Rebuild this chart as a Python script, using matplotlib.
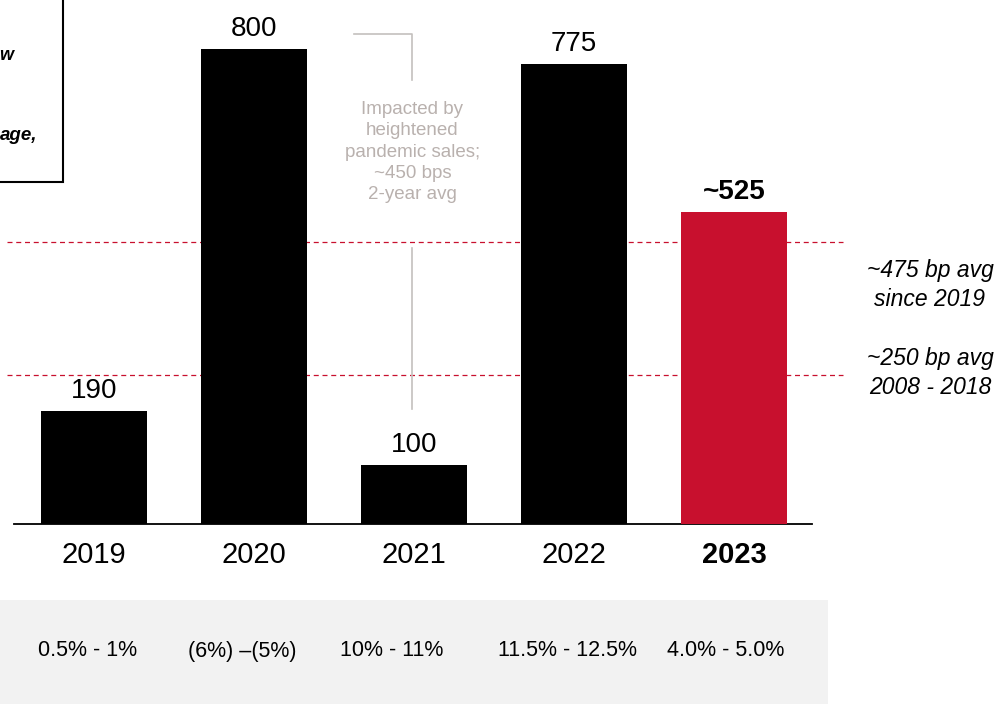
import matplotlib
matplotlib.use("Agg")
import matplotlib.pyplot as plt
from matplotlib.patches import Rectangle

plt.rcParams['font.family'] = ['Liberation Sans', 'DejaVu Sans']

# Data
years = ["2019", "2020", "2021", "2022", "2023"]
values = [190, 800, 100, 775, 525]
value_labels = ["190", "800", "100", "775", "~525"]
bar_colors = ["#000000", "#000000", "#000000", "#000000", "#C8102E"]
growth_ranges = ["0.5% - 1%", "(6%) \u2013(5%)", "10% - 11%", "11.5% - 12.5%", "4.0% - 5.0%"]
avg_levels = [475, 250]
avg_labels = ["~475 bp avg\nsince 2019", "~250 bp avg\n2008 - 2018"]

W, H = 998, 706
fig = plt.figure(figsize=(W / 100, H / 100), dpi=100)

# main axes: baseline at y=524 px, spanning x 14..812 px
ax_left, ax_right, base_y = 14, 812, 524
ax = fig.add_axes([ax_left / W, (H - base_y) / H, (ax_right - ax_left) / W, base_y / H])
ax.set_xlim(-0.5, 4.4875)
ax.set_ylim(0, 882)
for s in ["top", "right", "left"]:
    ax.spines[s].set_visible(False)
ax.spines["bottom"].set_linewidth(1.3)
ax.set_yticks([])

x = list(range(len(years)))
ax.bar(x, values, width=0.6625, color=bar_colors, zorder=3)

ax.set_xticks(x)
ax.set_xticklabels(years, fontsize=21)
ax.get_xticklabels()[-1].set_fontweight("bold")
ax.tick_params(axis="x", length=0, pad=12)

for xi, v, lab in zip(x, values, value_labels):
    ax.annotate(lab, (xi, v), xytext=(0, 5), textcoords="offset points",
                ha="center", va="bottom", fontsize=20,
                fontweight="bold" if lab.startswith("~") else "normal")

# average reference lines
for lvl in avg_levels:
    ax.plot([-0.544, 4.681], [lvl, lvl], color="#C8102E", lw=0.9,
            ls=(0, (4, 3)), zorder=1, clip_on=False)

fig.text(930 / W, 1 - 285 / H, avg_labels[0], ha="center", va="center",
         fontsize=16.5, style="italic", linespacing=1.3)
fig.text(930 / W, 1 - 373 / H, avg_labels[1], ha="center", va="center",
         fontsize=16.5, style="italic", linespacing=1.3)

# pandemic bracket and note
gray = "#C4C0BE"
ax.plot([1.625, 1.99, 1.99], [825, 825, 747], color=gray, lw=1.2, zorder=4)
ax.plot([1.99, 1.99], [465, 194], color=gray, lw=1.2, zorder=4)
ax.text(1.99, 626, "Impacted by\nheightened\npandemic sales;\n~450 bps\n2-year avg",
        ha="center", va="center", fontsize=13.5, color="#B9B1AE", linespacing=1.32)

# boxed commentary at top left
fig.patches.append(Rectangle((-100 / W, 1 - 182 / H), 163 / W, 300 / H,
                             transform=fig.transFigure, fill=False,
                             edgecolor="black", lw=1.5))
fig.text(13 / W, 1 - 55 / H, "w", ha="right", va="center", fontsize=13,
         fontweight="bold", style="italic")
fig.text(37 / W, 1 - 136 / H, "age,", ha="right", va="center", fontsize=13.5,
         fontweight="bold", style="italic")

# growth range strip
fig.patches.append(Rectangle((0, 1 - 704 / H), 828 / W, 104 / H,
                             transform=fig.transFigure, facecolor="#F2F2F2",
                             edgecolor="none", zorder=0))
strip_x = [88, 242, 392, 567, 726]
for sx, txt in zip(strip_x, growth_ranges):
    fig.text(sx / W, 1 - 651 / H, txt, ha="center", va="center", fontsize=15.5)

fig.savefig("out.png", dpi=100)
